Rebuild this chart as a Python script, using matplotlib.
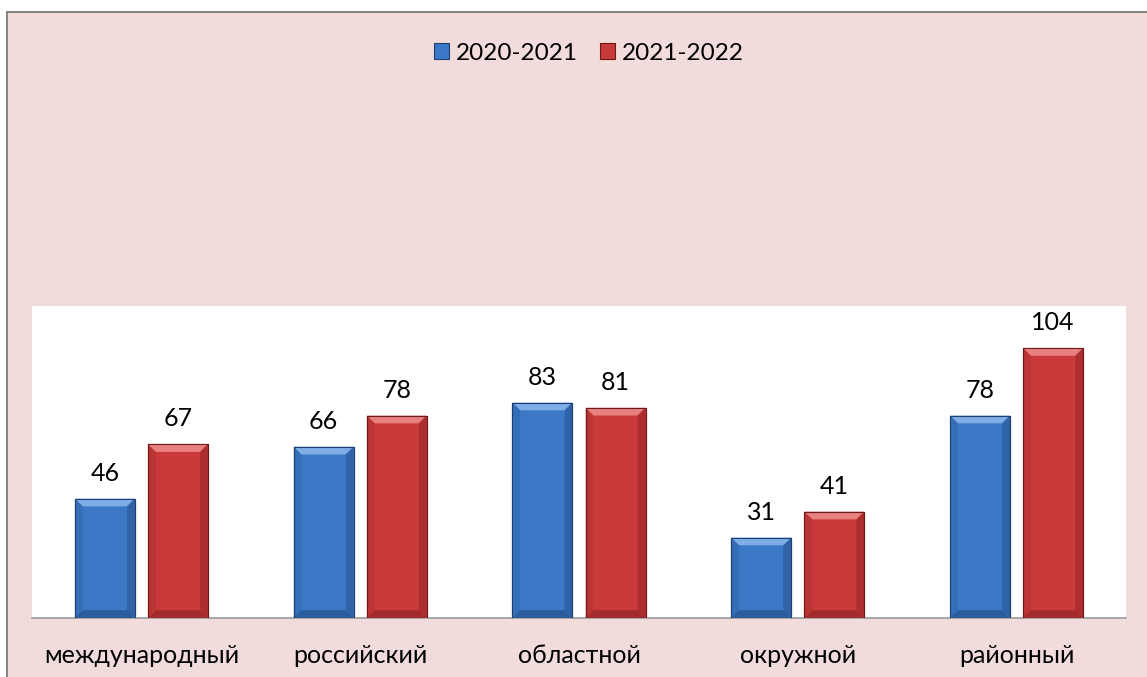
import matplotlib
matplotlib.use('Agg')
import matplotlib.pyplot as plt
import numpy as np
from matplotlib.patches import Rectangle, Polygon

plt.rcParams['font.family'] = ['Lato', 'DejaVu Sans']

categories = ['международный', 'российский', 'областной', 'окружной', 'районный']
series_names = ['2020-2021', '2021-2022']
values_2020 = [46, 66, 83, 31, 78]
values_2021 = [67, 78, 81, 41, 104]

colors = ['#3B78C6', '#C93A3A']
edge_colors = ['#1F3F6E', '#6E1A1A']
light_colors = ['#7FAEE6', '#E98080']
dark_colors = ['#2A5A9A', '#A02A2A']

W, H = 1147, 677
fig = plt.figure(figsize=(W / 100, H / 100), dpi=100)
fig.patch.set_facecolor('white')

# pink chart area with gray frame
fig.patches.append(Rectangle((7 / W, -0.1), 1.2, 1.1 - 12 / H, transform=fig.transFigure,
                             facecolor='#F2DCDB', edgecolor='#878787', linewidth=1.5, zorder=-10))

ax = fig.add_axes([32 / W, (H - 618) / H, (1126 - 32) / W, (618 - 306) / H])
ax.set_facecolor('white')
ax.set_xlim(-0.5, len(categories) - 0.5)
ax.set_ylim(0, 120.2)
for s in ['top', 'right', 'left']:
    ax.spines[s].set_visible(False)
ax.spines['bottom'].set_color('#9A9A9A')
ax.spines['bottom'].set_linewidth(1.2)
ax.set_yticks([])
ax.set_xticks(range(len(categories)))
ax.set_xticklabels(categories, fontsize=18)
ax.tick_params(axis='x', length=0, pad=19)

x = np.arange(len(categories))
width = 0.274
offset = 0.167
bev_x = 0.036
bev_y = 3.0

for k, vals in enumerate([values_2020, values_2021]):
    xs = x + (offset if k else -offset)
    bars = ax.bar(xs, vals, width, color=colors[k], edgecolor=edge_colors[k],
                  linewidth=0.8, zorder=2)
    for b, v in zip(bars, vals):
        x0 = b.get_x()
        x1 = x0 + b.get_width()
        # bevel: light top, darker sides/bottom
        ax.add_patch(Polygon([(x0, v), (x1, v), (x1 - bev_x, v - bev_y), (x0 + bev_x, v - bev_y)],
                             closed=True, facecolor=light_colors[k], edgecolor='none', zorder=3))
        ax.add_patch(Polygon([(x1, v), (x1, 0), (x1 - bev_x, bev_y), (x1 - bev_x, v - bev_y)],
                             closed=True, facecolor=dark_colors[k], edgecolor='none', zorder=3, alpha=0.7))
        ax.add_patch(Polygon([(x0, 0), (x1, 0), (x1 - bev_x, bev_y), (x0 + bev_x, bev_y)],
                             closed=True, facecolor=dark_colors[k], edgecolor='none', zorder=3, alpha=0.9))
        ax.add_patch(Polygon([(x0, v), (x0, 0), (x0 + bev_x, bev_y), (x0 + bev_x, v - bev_y)],
                             closed=True, facecolor=dark_colors[k], edgecolor='none', zorder=3, alpha=0.3))
        ax.add_patch(Rectangle((x0, 0), x1 - x0, v, facecolor='none',
                               edgecolor=edge_colors[k], linewidth=0.8, zorder=4))
        ax.annotate(str(v), (b.get_x() + b.get_width() / 2, v), xytext=(0, 10),
                    textcoords='offset points', ha='center', va='bottom', fontsize=18)

# legend
handles = [Rectangle((0, 0), 1, 1, facecolor=colors[i], edgecolor=edge_colors[i], linewidth=0.8)
           for i in range(2)]
fig.legend(handles, series_names, loc='center', bbox_to_anchor=(589 / W, 1 - 53 / H),
           ncol=2, frameon=False, fontsize=17.5, handlelength=0.6, handleheight=0.6,
           handletextpad=0.3, columnspacing=0.9)

fig.savefig('out.png', dpi=100, facecolor=fig.get_facecolor())
